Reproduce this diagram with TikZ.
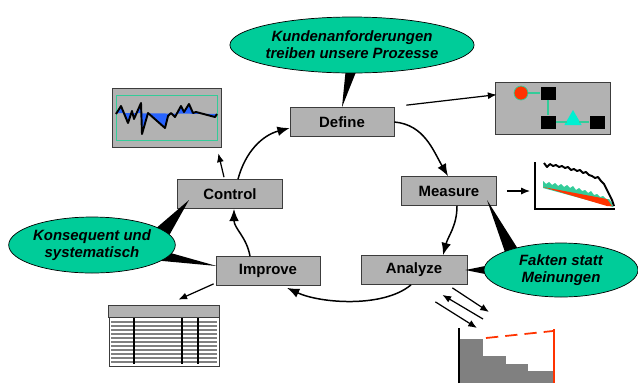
\documentclass[tikz,border=0pt]{standalone}
\usepackage{fontspec}
\setmainfont{Liberation Sans}
\definecolor{boxgray}{RGB}{178,178,178}
\definecolor{boxframe}{RGB}{60,60,60}
\definecolor{mygreen}{RGB}{0,204,153}
\definecolor{myteal}{RGB}{51,204,153}
\definecolor{myblue}{RGB}{40,100,255}
\definecolor{myred}{RGB}{255,51,0}
\definecolor{mycyan}{RGB}{0,240,210}
\definecolor{bargray}{RGB}{128,128,128}
\usetikzlibrary{positioning,shapes.geometric,arrows.meta,calc}
\pgfdeclarelayer{front}
\pgfsetlayers{main,front}

\begin{document}
\begin{tikzpicture}[x=0.02cm,y=-0.02cm,
  every node/.style={font=\fontsize{8.5}{9.8}\selectfont\bfseries},
  phase/.style={draw=boxframe,fill=boxgray,minimum height=0.58cm,inner sep=0pt},
  bubble/.style={draw,ellipse,fill=mygreen,align=center,inner sep=0pt,
    font=\fontsize{8.5}{9.8}\selectfont\bfseries\itshape},
  turn/.style={line width=0.85pt,-{Latex[length=7pt,width=5.5pt]}},
  ptr/.style={line width=0.7pt,-{Latex[length=5pt,width=4pt]}},
  panel/.style={draw=boxframe,fill=boxgray,inner sep=0pt},
  mini/.style={fill=black,minimum width=0.3cm,minimum height=0.26cm,inner sep=0pt}
]
\path[use as bounding box,fill=white] (0,0) rectangle (638,383);

% Phases
\node[phase,minimum width=2.08cm] (define) at (342,122) {Define};
\node[phase,minimum width=1.9cm] (measure) at (449,191) {Measure};
\node[phase,minimum width=2.12cm] (analyze) at (414,270) {Analyze};
\node[phase,minimum width=2.08cm] (improve) at (268,271) {Improve};
\node[phase,minimum width=2.1cm] (control) at (230,194) {Control};

% Cycle
\draw[turn] (define.east) to[out=-5,in=120] ($(measure.north)+(-1,0)$);
\draw[turn] ($(measure.south)+(8,0)$) to[out=-90,in=75] ($(analyze.north)+(29,0)$);
\draw[turn] ($(analyze.south)+(-3,0)$) to[out=-140,in=-25,looseness=0.75] ($(improve.south)+(19,2)$);
\draw[turn] ($(improve.north)+(-18,0)$) to[out=100,in=-90] ($(control.south)+(4,0)$);
\draw[turn] ($(control.north)+(8,0)$) to[out=75,in=195] ($(define.west)+(0,6)$);

% Bubbles
\begin{pgfonlayer}{front}
\node[bubble,minimum width=4.68cm,minimum height=1.12cm] (kunden) at (352,45)
  {Kundenanforderungen\\treiben unsere Prozesse};
\node[bubble,minimum width=3.2cm,minimum height=1.12cm] (konsequent) at (92,245)
  {Konsequent und\\systematisch};
\node[bubble,minimum width=3.08cm,minimum height=1.08cm] (fakten) at (561,270)
  {Fakten statt\\Meinungen};
\end{pgfonlayer}

% Wedges
\fill (define.north) -- ($(kunden.center)+(-6,22)$) -- ($(kunden.center)+(6,22)$) -- cycle;
\fill ($(control.center)+(-41,6)$) -- ($(konsequent.center)+(62,-15)$) -- ($(konsequent.center)+(74,-4)$) -- cycle;
\fill ($(improve.west)+(1,-5)$) -- ($(konsequent.center)+(68,5)$) -- ($(konsequent.center)+(60,15)$) -- cycle;
\fill ($(measure.center)+(38,9)$) -- ($(fakten.center)+(-55,-15)$) -- ($(fakten.center)+(-43,-21)$) -- cycle;
\fill ($(analyze.east)+(-2,0)$) -- ($(fakten.center)+(-61,-7)$) -- ($(fakten.center)+(-61,7)$) -- cycle;

% Control chart
\node[panel,minimum width=2.18cm,minimum height=1.18cm] (spc) at (166.5,117.5) {};
\draw[myteal,line width=0.6pt] ($(spc.north west)+(5,8)$) rectangle ($(spc.south east)+(-4,-7)$);
\fill[myblue] (116,113) -- plot coordinates {(121,106) (128,123) (132,111) (134,119) (141,103)
  (142,134) (148,113) (165,128) (168,116) (171,113) (175,117) (181,106) (184,112) (189,104)
  (193,113) (196,112) (215,117) (217,114)} -- cycle;
\draw[line width=1.1pt,line join=round] plot coordinates {(116,114) (121,106) (128,123) (132,111)
  (134,119) (141,103) (142,134) (148,113) (165,128) (168,116) (171,113) (175,117) (181,106)
  (184,112) (189,104) (193,113) (196,112) (215,117) (217,114)};
\draw[ptr] ($(control.north)+(-6,-2)$) -- ($(spc.south east)+(-3,6)$);

% Process map
\node[panel,minimum width=2.3cm,minimum height=1.04cm] (map) at (552.5,108) {};
\node[circle,fill=myred,draw=myteal,minimum size=0.28cm,inner sep=0pt] (start) at (521,93) {};
\node[mini] (m1) at (548,93) {};
\node[mini] (m2) at (548,122) {};
\node[regular polygon,regular polygon sides=3,fill=mycyan,minimum size=0.4cm,inner sep=0pt] (gate) at (573,120) {};
\node[mini] (m3) at (597,122) {};
\draw[myteal,line width=0.7pt] (start) -- (m1) -- (m2) -- (gate.west |- m2) (gate.east |- m3) -- (m3);
\draw[ptr] ($(define.north east)+(12,-2)$) -- ($(map.north west)+(2,13)$);

% Trend
\coordinate (trend) at (535,209);
\draw[line width=0.6pt] ($(trend)+(0,-47)$) -- (trend) -- ($(trend)+(80,0)$);
\fill[myteal] plot coordinates {(543,181) (546,184) (549,182) (552,185) (555,183) (558,186)
  (561,184) (564,187) (567,185) (570,188) (573,186) (576,190) (579,188) (582,191) (585,190)
  (588,193) (591,191) (594,195) (597,194) (600,197) (603,196) (606,199) (609,199) (612,203)
  (613,207)} -- (543,188) -- cycle;
\fill[myred] (543,187) -- (607,199) -- (612,206) -- (607,206) -- cycle;
\draw[line width=1.1pt,line join=round] plot coordinates {(544,163) (547,167) (550,164) (553,166)
  (556,165) (559,167) (562,166) (565,168) (568,167) (571,170) (574,169) (577,171) (580,170)
  (583,173) (586,172) (589,175) (592,176) (595,178) (598,177) (601,181) (604,184) (606,188)
  (608,192) (610,196) (612,200) (614,206)};
\draw[ptr] ($(measure.east)+(10,0)$) -- ($(trend)+(-5,-18)$);

% Pareto
\coordinate (pareto) at (459,383);
\foreach \x/\w/\h in {0/24/44, 24/23/27, 47/22/19, 69/25/12}
  \fill[bargray] ($(pareto)+(\x,0)$) rectangle ($(pareto)+(\x+\w,-\h)$);
\draw[line width=0.6pt] (pareto) -- ($(pareto)+(0,-55)$);
\draw[myred,line width=1pt,dash pattern=on 7pt off 4pt] ($(pareto)+(27,-45)$) -- ($(pareto)+(94,-52)$);
\draw[myred,line width=0.8pt] ($(pareto)+(95,0)$) -- ($(pareto)+(95,-54)$);
\draw[ptr] ($(analyze.south east)+(-15,3)$) -- ($(pareto)+(30,-71)$);
\draw[ptr] ($(pareto)+(24,-64)$) -- ($(analyze.south east)+(-25,10)$);
\draw[ptr] ($(analyze.south east)+(-32,17)$) -- ($(pareto)+(18,-55)$);

% Table
\node[draw=boxframe,fill=white,minimum width=2.2cm,minimum height=1.2cm,inner sep=0pt] (table) at (164,336) {};
\fill[boxgray,draw=boxframe] (table.north west) rectangle ($(table.north east)+(0,12)$);
\foreach \y in {322,326,...,362}
  \draw[gray,line width=0.9pt] (111,\y) -- (217,\y);
\foreach \x in {134,182,198}
  \draw[line width=0.6pt] (\x,318) -- (\x,364);
\draw[ptr] ($(improve.south west)+(-2,-2)$) -- ($(table.north east)+(-41,-6)$);
\end{tikzpicture}
\end{document}
